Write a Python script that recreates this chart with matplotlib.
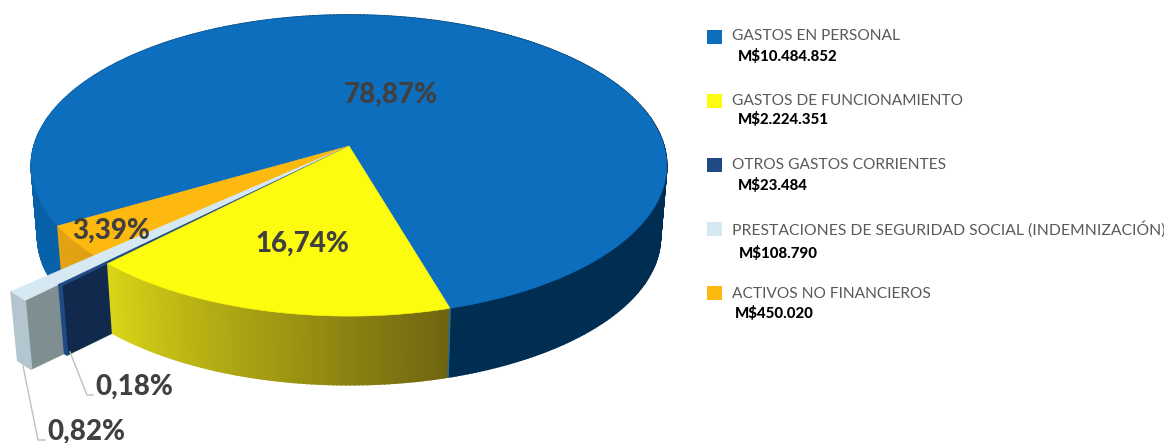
import numpy as np
import matplotlib
matplotlib.use('Agg')
import matplotlib.pyplot as plt
from matplotlib.colors import to_rgb

# datos
categorias = ['GASTOS EN PERSONAL', 'GASTOS DE FUNCIONAMIENTO', 'OTROS GASTOS CORRIENTES',
              'PRESTACIONES DE SEGURIDAD SOCIAL (INDEMNIZACIÓN)', 'ACTIVOS NO FINANCIEROS']
montos = [10484852, 2224351, 23484, 108790, 450020]
montos_txt = ['M$10.484.852', 'M$2.224.351', 'M$23.484', 'M$108.790', 'M$450.020']
porcentajes = ['78,87%', '16,74%', '0,18%', '0,82%', '3,39%']
colores = ['#0D6EBE', '#FDFB0E', '#1F4A86', '#D6E9F3', '#FDB90F']

# perspectiva del disco, en pixeles
cx, cy = 349, 146
R, Rv, k = 315, 148, 0.13
alto, esc_base = 72, 0.98
inicio = -16.3  # grados desde el frente, positivo hacia la izquierda


def proyectar(theta, r=1.0, base=False):
    t = np.radians(theta)
    u = -r * np.sin(t)
    v = r * np.cos(t)
    w = 1 - k * v
    x = R * u / w
    y = Rv * v / w
    if base:
        return cx + x * esc_base, cy + y * esc_base + alto
    return cx + x, cy + y


def mezcla(c1, c2, f):
    a, b = np.array(to_rgb(c1)), np.array(to_rgb(c2))
    return tuple(a + (b - a) * np.clip(f, 0, 1))


def pared(ax, t1, t2, r, c1, c2, f1=None, f2=None):
    # pared exterior con degradado en tiras
    n = max(2, int(abs(t2 - t1) / 0.7))
    ts = np.linspace(t1, t2, n + 1)
    f1 = t1 if f1 is None else f1
    f2 = t2 if f2 is None else f2
    for a, b in zip(ts[:-1], ts[1:]):
        xa, ya = proyectar(a, r)
        xb, yb = proyectar(b, r)
        xc, yc = proyectar(b, r, True)
        xd, yd = proyectar(a, r, True)
        col = mezcla(c1, c2, ((a + b) / 2 - f1) / (f2 - f1))
        ax.fill([xa, xb, xc, xd], [ya, yb, yc, yd], color=col, lw=1.2)


def tapa(ax, t1, t2, r, color):
    ts = np.linspace(t1, t2, max(2, int(abs(t2 - t1)) + 1))
    x, y = proyectar(ts, r)
    ax.fill(np.r_[cx, x], np.r_[cy, y], color=color, lw=0.4)


def lado(ax, theta, r, color):
    x1, y1 = proyectar(theta, r)
    x2, y2 = proyectar(theta, r, True)
    ax.fill([cx, x1, x2, cx], [cy, y1, y2, cy + alto], color=color, lw=0.4)


fig = plt.figure(figsize=(11.64, 4.43), dpi=100)
ax = fig.add_axes([0, 0, 1, 1])
ax.set_xlim(0, 1164)
ax.set_ylim(443, 0)
ax.axis('off')

plt.rcParams['font.family'] = ['Lato', 'DejaVu Sans']

# angulos a partir de los montos
total = sum(montos)
grados = [m / total * 360 for m in montos]
t_am = inicio
t_os = t_am + grados[1]
t_ce = t_os + grados[2]
t_ps = t_ce + grados[3]
t_an = t_ps + grados[4]
t_az = t_an + grados[0]

# azul (fondo)
pared(ax, t_an, t_az, 1.0, '#0862A9', '#002E52', 85, 270)
tapa(ax, t_an, t_az, 1.0, colores[0])
# naranjo
pared(ax, t_ps, t_an, 1.0, '#DDA015', '#E3A312')
tapa(ax, t_ps, t_an, 1.0, colores[4])
# celeste, sale del disco
lado(ax, t_ce, 1.29, '#7F8E90')
pared(ax, t_ce, t_ps, 1.29, '#B3C6CF', '#B3C6CF')
tapa(ax, t_ce, t_ps, 1.29, colores[3])
# azul oscuro
lado(ax, t_os, 1.17, '#10294C')
pared(ax, t_os, t_ce, 1.17, '#1F4A86', '#1F4A86')
tapa(ax, t_os, t_ce, 1.17, colores[2])
# amarillo
pared(ax, t_am, t_os, 1.0, '#6E6410', '#D9D516')
tapa(ax, t_am, t_os, 1.0, colores[1])

# linea azul en el borde amarillo-azul
x1, y1 = proyectar(t_am)
x2, y2 = proyectar(t_am, 1.0, True)
ax.plot([x1, x2], [y1, y2], color='#0D6EBE', lw=0.8)

# guias
ax.plot([70, 87, 93], [352, 395, 395], color='#BFBFBF', lw=1)
ax.plot([23, 38, 45], [366, 440, 440], color='#BFBFBF', lw=1)

# etiquetas de porcentaje
gris = '#404040'
pos_pct = [(391, 95), (302, 244), (134, 387), (86, 432), (111, 231)]
for p, (x, y) in zip(porcentajes, pos_pct):
    ax.text(x, y, p, fontsize=20, fontweight=900, color=gris, ha='center', va='center')

# leyenda
y_ley = [37, 101, 165, 229, 293]
y_txt = [36, 101, 165, 229, 294]
y_monto = [56, 119, 185, 254, 313]
x_monto = [738, 738, 738, 739, 735]
tam_ley = [11.2, 11.2, 11.2, 11.3, 11.2]
for i in range(5):
    ax.add_patch(plt.Rectangle((707, y_ley[i] - 7), 15, 14, color=colores[i], lw=0))
    ax.text(732, y_txt[i], categorias[i], fontsize=tam_ley[i], color='#595959', va='center')
    ax.text(x_monto[i], y_monto[i], montos_txt[i], fontsize=10.8, fontweight=900,
            color='black', va='center')

fig.savefig('out.png', dpi=100)
